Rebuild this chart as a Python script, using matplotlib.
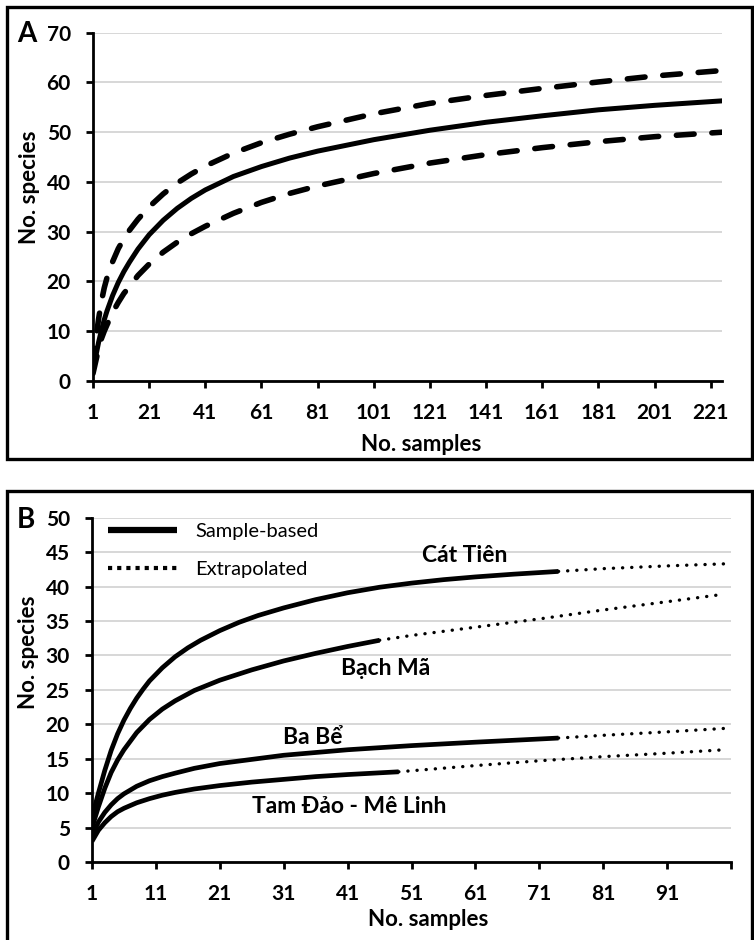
import matplotlib
matplotlib.use("Agg")
import matplotlib.pyplot as plt
from matplotlib.patches import Rectangle

plt.rcParams['font.family'] = ['Lato', 'Open Sans', 'DejaVu Sans']

# ---- Panel A: rarefaction curve with 95% CI ----
a_samples = [1, 2, 3, 4, 5, 6, 8, 10, 12, 14, 17, 21, 26, 31, 36, 41, 51, 61,
             71, 81, 101, 121, 141, 161, 181, 201, 225]
a_mean = [2, 5, 7.8, 10.2, 12.3, 14.1, 17.2, 19.8, 22, 23.9, 26.5, 29.4, 32.3,
          34.7, 36.7, 38.4, 41.1, 43.1, 44.8, 46.2, 48.5, 50.4, 52, 53.3,
          54.5, 55.4, 56.3]
a_upper = [3, 8.5, 12.5, 16, 18.7, 20.8, 24, 26.6, 28.6, 30.3, 32.5, 35, 37.6,
           39.8, 41.6, 43.2, 45.8, 47.9, 49.6, 51.1, 53.7, 55.8, 57.4, 58.8,
           60.1, 61.3, 62.4]
a_lower = [1.5, 4, 6.5, 8.5, 10, 11.3, 13.8, 15.8, 17.6, 19, 21.2, 23.5, 25.9,
           27.9, 29.6, 31.1, 33.7, 35.9, 37.7, 39.2, 41.7, 43.8, 45.5, 46.9,
           48.1, 49.1, 50]

# ---- Panel B: per-site curves (sample-based + extrapolated) ----
sites = ['Cát Tiên', 'Bạch Mã', 'Ba Bể', 'Tam Đảo - Mê Linh']
obs_x = {
    'Cát Tiên': [1, 2, 3, 4, 5, 6, 7, 8, 9, 10, 12, 14, 16, 18, 21, 24, 27, 31,
                 36, 41, 46, 51, 56, 61, 67, 74],
    'Bạch Mã': [1, 2, 3, 4, 5, 6, 8, 10, 12, 14, 17, 21, 26, 31, 36, 41, 46],
    'Ba Bể': [1, 2, 3, 4, 5, 6, 8, 10, 12, 14, 17, 21, 26, 31, 36, 41, 51, 61, 74],
    'Tam Đảo - Mê Linh': [1, 2, 3, 4, 5, 6, 8, 10, 12, 14, 17, 21, 26, 31, 36,
                          41, 49],
}
obs_y = {
    'Cát Tiên': [6.5, 10, 13.3, 16.2, 18.6, 20.6, 22.3, 23.8, 25.1, 26.3, 28.2,
                 29.8, 31.1, 32.2, 33.6, 34.8, 35.8, 36.9, 38.1, 39.1, 39.9,
                 40.5, 41, 41.4, 41.8, 42.2],
    'Bạch Mã': [5, 8, 10.7, 13, 14.8, 16.3, 18.8, 20.7, 22.2, 23.4, 24.9, 26.4,
                27.9, 29.2, 30.3, 31.3, 32.2],
    'Ba Bể': [3.8, 5.8, 7.2, 8.3, 9.2, 9.9, 11, 11.8, 12.4, 12.9, 13.6, 14.3,
              14.9, 15.5, 15.9, 16.3, 16.9, 17.4, 18],
    'Tam Đảo - Mê Linh': [3, 4.6, 5.7, 6.6, 7.3, 7.8, 8.6, 9.2, 9.7, 10.1, 10.6,
                          11.1, 11.6, 12, 12.4, 12.7, 13.1],
}
ext_x = {
    'Cát Tiên': [74, 81, 91, 100],
    'Bạch Mã': [46, 51, 61, 71, 81, 91, 100],
    'Ba Bể': [74, 81, 91, 100],
    'Tam Đảo - Mê Linh': [49, 61, 71, 81, 91, 100],
}
ext_y = {
    'Cát Tiên': [42.2, 42.6, 43, 43.3],
    'Bạch Mã': [32.2, 32.9, 34.1, 35.3, 36.6, 37.8, 38.9],
    'Ba Bể': [18, 18.4, 18.9, 19.4],
    'Tam Đảo - Mê Linh': [13.1, 14, 14.7, 15.3, 15.8, 16.3],
}
# label anchor (sample, species) for each site name
label_pos = {
    'Cát Tiên': (59.4, 43.5),
    'Bạch Mã': (46.9, 27.1),
    'Ba Bể': (35.6, 17.2),
    'Tam Đảo - Mê Linh': (41.3, 7.1),
}

W, H = 754, 940
fig = plt.figure(figsize=(W / 100, H / 100), dpi=100)

# panel frames
fig.patches.append(Rectangle((7 / W, 1 - 459 / H), 745 / W, 452 / H,
                             transform=fig.transFigure, fill=False,
                             edgecolor='black', linewidth=2.4, zorder=0))
fig.patches.append(Rectangle((7 / W, -0.01), 745 / W, 1 - 491 / H + 0.01,
                             transform=fig.transFigure, fill=False,
                             edgecolor='black', linewidth=2.4, zorder=0))


def style_axes(ax):
    for s in ['top', 'right']:
        ax.spines[s].set_visible(False)
    for s in ['left', 'bottom']:
        ax.spines[s].set_linewidth(2)
    ax.grid(axis='y', color='#d4d4d4', linewidth=1.3)
    ax.set_axisbelow(True)
    ax.tick_params(axis='both', direction='out', length=5, width=2,
                   labelsize=15)
    ax.tick_params(axis='y', pad=11)
    ax.tick_params(axis='x', pad=11)
    for t in ax.get_xticklabels() + ax.get_yticklabels():
        t.set_fontweight('bold')


# ---- A ----
axA = fig.add_axes([93 / W, 1 - 381 / H, 629 / W, 348.3 / H])
axA.plot(a_samples, a_mean, color='black', lw=3.6, solid_capstyle='round')
for ser in (a_upper, a_lower):
    axA.plot(a_samples, ser, color='black', lw=4.0,
             linestyle=(0, (3.2, 3.2)), dash_capstyle='round')
axA.set_xlim(1, 225)
axA.set_ylim(0, 70)
axA.set_xticks(list(range(1, 222, 20)))
axA.set_yticks(list(range(0, 71, 10)))
style_axes(axA)
axA.set_xlabel('No. samples', fontsize=16, fontweight='bold', va='center')
axA.xaxis.set_label_coords(0.521, -0.183)
axA.set_ylabel('No. species', fontsize=16, fontweight='bold', va='center')
axA.yaxis.set_label_coords(-0.101, 0.557)
fig.text(27 / W, 1 - 34 / H, 'A', fontsize=20, fontweight='bold',
         ha='center', va='center')

# ---- B ----
axB = fig.add_axes([92 / W, 1 - 862 / H, 639 / W, 344.3 / H])
solid_handle = dot_handle = None
for site in sites:
    l1, = axB.plot(obs_x[site], obs_y[site], color='black', lw=3.4,
                   solid_capstyle='butt', solid_joinstyle='round')
    l2, = axB.plot(ext_x[site], ext_y[site], color='black', lw=2.4,
                   linestyle=(0, (0.05, 2.7)), dash_capstyle='round')
    if solid_handle is None:
        solid_handle, dot_handle = l1, l2
    lx, ly = label_pos[site]
    axB.text(lx, ly, site, fontsize=16.5, fontweight='bold',
             ha='center', va='baseline')
axB.set_xlim(1, 101)
axB.set_ylim(0, 50)
axB.set_xticks(list(range(1, 102, 10)))
axB.set_xticklabels([str(v) for v in range(1, 92, 10)] + [''])
axB.set_yticks(list(range(0, 51, 5)))
style_axes(axB)
axB.set_xlabel('No. samples', fontsize=16, fontweight='bold', va='center')
axB.xaxis.set_label_coords(0.526, -0.168)
axB.set_ylabel('No. species', fontsize=16, fontweight='bold', va='center')
axB.yaxis.set_label_coords(-0.099, 0.61)
fig.text(26 / W, 1 - 520 / H, 'B', fontsize=20, fontweight='bold',
         ha='center', va='center')

leg = axB.legend([solid_handle, dot_handle], ['Sample-based', 'Extrapolated'],
                 loc='upper left', bbox_to_anchor=(0.025, 0.985),
                 frameon=False, fontsize=14.5, handlelength=3.45,
                 handletextpad=0.9, labelspacing=1.05, borderpad=0,
                 borderaxespad=0)
leg.get_lines()[0].set_linewidth(4.5)
leg.get_lines()[1].set_linestyle((0, (1, 1.2)))
leg.get_lines()[1].set_dash_capstyle('butt')
leg.get_lines()[1].set_linewidth(3)

fig.savefig('out.png', dpi=100)
